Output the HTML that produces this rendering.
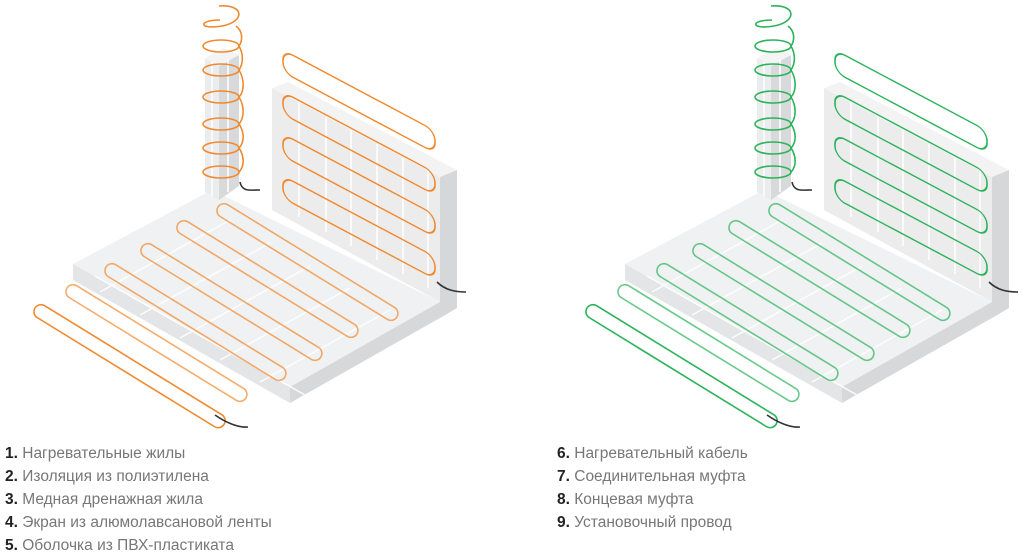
<!DOCTYPE html>
<html><head><meta charset="utf-8"><style>
body{margin:0;background:#fff;width:1024px;height:559px;overflow:hidden;font-family:"Liberation Sans",sans-serif}
.t{position:absolute;font-size:15.5px;color:#777;line-height:23px}
.t b{color:#222;font-weight:600}
</style></head><body>
<svg width="1024" height="559" style="position:absolute;left:0;top:0">
<defs>
<g id="d">
 <!-- floor -->
 <polygon points="73,264 212,190 440,302 290,387" fill="#f0f1f2"/>
 <polygon points="73,264 290,387 290,403 73,280" fill="#e4e5e6"/>
 <polygon points="290,387 440,302 440,318 290,403" fill="#d7d8d9"/>
 <g stroke="#fff" stroke-width="1.5" opacity=".9">
  <line x1="100" y1="292" x2="230" y2="220"/><line x1="140" y1="315" x2="270" y2="243"/>
  <line x1="180" y1="338" x2="310" y2="266"/><line x1="220" y1="360" x2="350" y2="288"/>
  <line x1="260" y1="382" x2="390" y2="310"/>
  <line x1="95" y1="276" x2="305" y2="395"/>
 </g>
 <!-- wall -->
 <polygon points="272,88 440,177 440,302 272,210" fill="#ececed"/>
 <polygon points="272,88 288,82 457,170 440,177" fill="#f3f3f4"/>
 <polygon points="440,177 457,170 457,308 440,318" fill="#d6d7d8"/>
 <g stroke="#fff" stroke-width="1.5">
  <line x1="299" y1="102" x2="299" y2="217"/><line x1="326" y1="117" x2="326" y2="232"/>
  <line x1="351" y1="130" x2="351" y2="246"/><line x1="377" y1="144" x2="377" y2="260"/>
  <line x1="403" y1="158" x2="403" y2="274"/><line x1="428" y1="171" x2="428" y2="288"/>
 </g>
 <!-- column -->
 <polygon points="205,58 219,66 219,200 205,192" fill="#ebeced"/>
 <polygon points="219,66 239,55 239,186 219,200" fill="#d8d9da"/>
 <polygon points="205,58 224,48 239,55 219,66" fill="#f4f4f5"/>
 <line x1="212" y1="62" x2="212" y2="196" stroke="#fff" stroke-width="1.5"/>
 <line x1="228" y1="60" x2="228" y2="192" stroke="#fff" stroke-width="1.5"/>
 <!-- cables -->
 <g fill="none" stroke="currentColor" stroke-width="1.6">
  <path d="M219,6 C245,4 245,22 222,26 C198,30 198,20 220,20"/>
  <ellipse cx="221" cy="46" rx="18" ry="6"/>
  <ellipse cx="221" cy="70" rx="18" ry="6"/>
  <ellipse cx="221" cy="97" rx="18" ry="6"/>
  <ellipse cx="221" cy="124" rx="18" ry="6"/>
  <ellipse cx="221" cy="148" rx="18" ry="6"/>
  <ellipse cx="221" cy="172" rx="18" ry="6"/>
  <path d="M236,26 C244,32 242,42 239,46 M239,46 C244,55 243,64 239,70 M239,70 C245,80 244,92 239,97 M239,97 C245,107 244,118 239,124 M239,124 C245,133 244,143 239,148 M239,148 C245,157 244,167 239,172"/>
  <g transform="translate(283,0) skewY(28)">
   <rect x="0" y="50" width="152" height="22" rx="10"/>
   <rect x="0" y="92" width="152" height="22" rx="10"/>
   <rect x="0" y="134" width="152" height="22" rx="10"/>
   <rect x="0" y="176" width="152" height="22" rx="10"/>
  </g>
  <g opacity=".7">
   <rect x="0" y="-7" width="210" height="14" rx="7" transform="translate(218,207) rotate(31.6)"/>
   <rect x="0" y="-7" width="210" height="14" rx="7" transform="translate(178,224) rotate(31.6)"/>
   <rect x="0" y="-7" width="210" height="14" rx="7" transform="translate(142,247) rotate(31.6)"/>
   <rect x="0" y="-7" width="210" height="14" rx="7" transform="translate(106,267) rotate(31.6)"/>
   <rect x="0" y="-7" width="210" height="14" rx="7" transform="translate(67,288) rotate(31.6)"/>
  </g>
  <rect x="0" y="-7" width="222" height="14" rx="7" transform="translate(35,308) rotate(31.6)"/>
 </g>
 <g fill="none" stroke="#333" stroke-width="1.6">
  <path d="M240,182 C242,192 250,190 260,190"/>
  <path d="M437,282 C445,290 455,292 466,292"/>
  <path d="M215,415 C225,422 238,428 248,427"/>
 </g>
</g>
</defs>
<use href="#d" style="color:#f0892e"/>
<use href="#d" x="552" style="color:#2bb35a"/>
</svg>
<div class="t" style="left:5px;top:442px">
<div><b>1.</b> Нагревательные жилы</div>
<div><b>2.</b> Изоляция из полиэтилена</div>
<div><b>3.</b> Медная дренажная жила</div>
<div><b>4.</b> Экран из алюмолавсановой ленты</div>
<div><b>5.</b> Оболочка из ПВХ-пластиката</div>
</div>
<div class="t" style="left:557px;top:442px">
<div><b>6.</b> Нагревательный кабель</div>
<div><b>7.</b> Соединительная муфта</div>
<div><b>8.</b> Концевая муфта</div>
<div><b>9.</b> Установочный провод</div>
</div>
</body></html>
